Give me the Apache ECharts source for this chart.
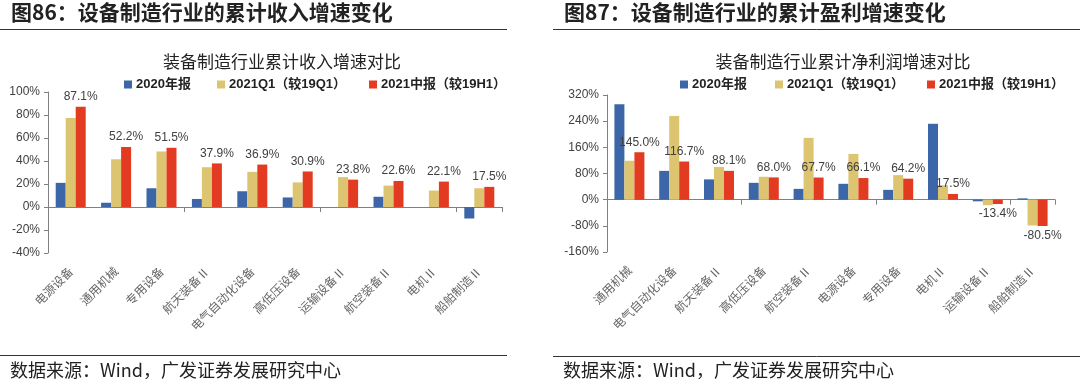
<!DOCTYPE html>
<html><head><meta charset="utf-8">
<script src="https://cdn.jsdelivr.net/npm/echarts@6/dist/echarts.min.js"></script>
<style>html,body{margin:0;padding:0;background:#fff}#c{width:1080px;height:384px}</style>
</head><body><div id="c"></div>
<script>
var seriesNames = ['2020年报', '2021Q1（较19Q1）', '2021中报（较19H1）'];
var colors = ['#3d66a9', '#ddc470', '#e23b22'];

var incomeCats = ['电源设备','通用机械','专用设备','航天装备Ⅱ','电气自动化设备','高低压设备','运输设备Ⅱ','航空装备Ⅱ','电机Ⅱ','船舶制造Ⅱ'];
var income2020 = [21, 3.7, 16.3, 7, 13.7, 8.3, null, 8.9, null, -10];
var income21Q1 = [77.5, 41.5, 48.3, 34.6, 30.6, 21.4, 26, 18.6, 14.3, 16.3];
var income21H1 = [87.1, 52.2, 51.5, 37.9, 36.9, 30.9, 23.8, 22.6, 22.1, 17.5];
var incomeTicks = {min: -40, max: 100, interval: 20};

var profitCats = ['通用机械','电气自动化设备','航天装备Ⅱ','高低压设备','航空装备Ⅱ','电源设备','专用设备','电机Ⅱ','运输设备Ⅱ','船舶制造Ⅱ'];
var profit2020 = [292, 88, 62, 51.5, 33, 48.5, 30, 232, -5, 4];
var profit21Q1 = [119, 256, 100, 70, 189, 140, 75, 44, -17, -79];
var profit21H1 = [145.0, 116.7, 88.1, 68.0, 67.7, 66.1, 64.2, 17.5, -13.4, -80.5];
var profitTicks = {min: -160, max: 320, interval: 80};

var cjk = '"Noto Sans CJK SC", sans-serif';
var latin = '"Liberation Sans", Arial, "Noto Sans CJK SC", sans-serif';

var chart = echarts.init(document.getElementById('c'), null, {renderer: 'canvas'});

function grids() {
  return [
    {left: 48, top: 92, width: 454, height: 161},
    {left: 607, top: 95, width: 448, height: 157}
  ];
}
function xAxes(idx, cats) {
  return [
    {type: 'category', gridIndex: idx, data: cats,
      axisLine: {onZero: true, lineStyle: {color: '#808080', width: 1}},
      axisTick: {show: true, length: 5, lineStyle: {color: '#808080'}},
      axisLabel: {show: false}},
    {type: 'category', gridIndex: idx, data: cats, position: 'bottom',
      axisLine: {show: false, onZero: false}, axisTick: {show: false},
      axisLabel: {rotate: 45, interval: 0, fontSize: 12, color: '#666', fontFamily: cjk, margin: 16}}
  ];
}
function yAxis(idx, t) {
  return {type: 'value', gridIndex: idx, min: t.min, max: t.max, interval: t.interval,
    splitLine: {show: false},
    axisLine: {show: true, lineStyle: {color: '#808080'}},
    axisTick: {show: true, length: 4, lineStyle: {color: '#808080'}},
    axisLabel: {formatter: '{value}%', fontSize: 12, color: '#404040', fontFamily: latin, margin: 8}};
}
function barSeries(xi, yi, d1, d2, d3) {
  var arr = [d1, d2, d3];
  return arr.map(function (d, k) {
    var s = {type: 'bar', name: seriesNames[k], xAxisIndex: xi, yAxisIndex: yi,
      barWidth: 10, barGap: '0%', itemStyle: {color: colors[k]}, data: d.slice()};
    if (k === 2) {
      s.data = d.map(function (v) {
        return {value: v, label: {show: true, position: v < 0 ? 'bottom' : 'top',
          formatter: function (p) { return p.value.toFixed(1) + '%'; },
          fontSize: 12, color: '#404040', fontFamily: latin, distance: 4}};
      });
    }
    return s;
  });
}
function legends(xs, y) {
  return seriesNames.map(function (n, k) {
    return {data: [n], left: xs[k], top: y, itemWidth: 8, itemHeight: 8, itemGap: 0,
      icon: 'rect', padding: 0,
      textStyle: {fontSize: 13, fontWeight: 'bold', color: '#222', fontFamily: latin, padding: [0, 0, 0, -1]}};
  });
}

var option = {
  animation: false,
  color: colors,
  grid: grids(),
  xAxis: xAxes(0, incomeCats).concat(xAxes(1, profitCats)),
  yAxis: [yAxis(0, incomeTicks), yAxis(1, profitTicks)],
  legend: legends([124, 217, 369], 78).concat(legends([680, 775, 927], 78)),
  title: [
    {text: '装备制造行业累计收入增速对比', left: 277, top: 48, textAlign: 'center',
      textStyle: {fontSize: 17, fontWeight: 'normal', color: '#222', fontFamily: cjk}},
    {text: '装备制造行业累计净利润增速对比', left: 838, top: 48, textAlign: 'center',
      textStyle: {fontSize: 17, fontWeight: 'normal', color: '#222', fontFamily: cjk}}
  ],
  graphic: [
    {type: 'text', left: 11, top: 2, style: {text: '图86：设备制造行业的累计收入增速变化', fontSize: 21, fontWeight: 'bold', fill: '#222', fontFamily: cjk}},
    {type: 'line', shape: {x1: 0, y1: 29.5, x2: 507, y2: 29.5}, style: {stroke: '#333', lineWidth: 1}},
    {type: 'text', left: 564, top: 2, style: {text: '图87：设备制造行业的累计盈利增速变化', fontSize: 21, fontWeight: 'bold', fill: '#222', fontFamily: cjk}},
    {type: 'line', shape: {x1: 553, y1: 29.5, x2: 1080, y2: 29.5}, style: {stroke: '#333', lineWidth: 1}},
    {type: 'line', shape: {x1: 0, y1: 355.5, x2: 507, y2: 355.5}, style: {stroke: '#333', lineWidth: 1}},
    {type: 'text', left: 10, top: 361, style: {text: '数据来源：Wind，广发证券发展研究中心', fontSize: 18, fill: '#222', fontFamily: cjk}},
    {type: 'line', shape: {x1: 553, y1: 356.5, x2: 1080, y2: 356.5}, style: {stroke: '#333', lineWidth: 1}},
    {type: 'text', left: 563, top: 361, style: {text: '数据来源：Wind，广发证券发展研究中心', fontSize: 18, fill: '#222', fontFamily: cjk}}
  ],
  series: barSeries(0, 0, income2020, income21Q1, income21H1).concat(barSeries(2, 1, profit2020, profit21Q1, profit21H1))
};
chart.setOption(option);
</script></body></html>
